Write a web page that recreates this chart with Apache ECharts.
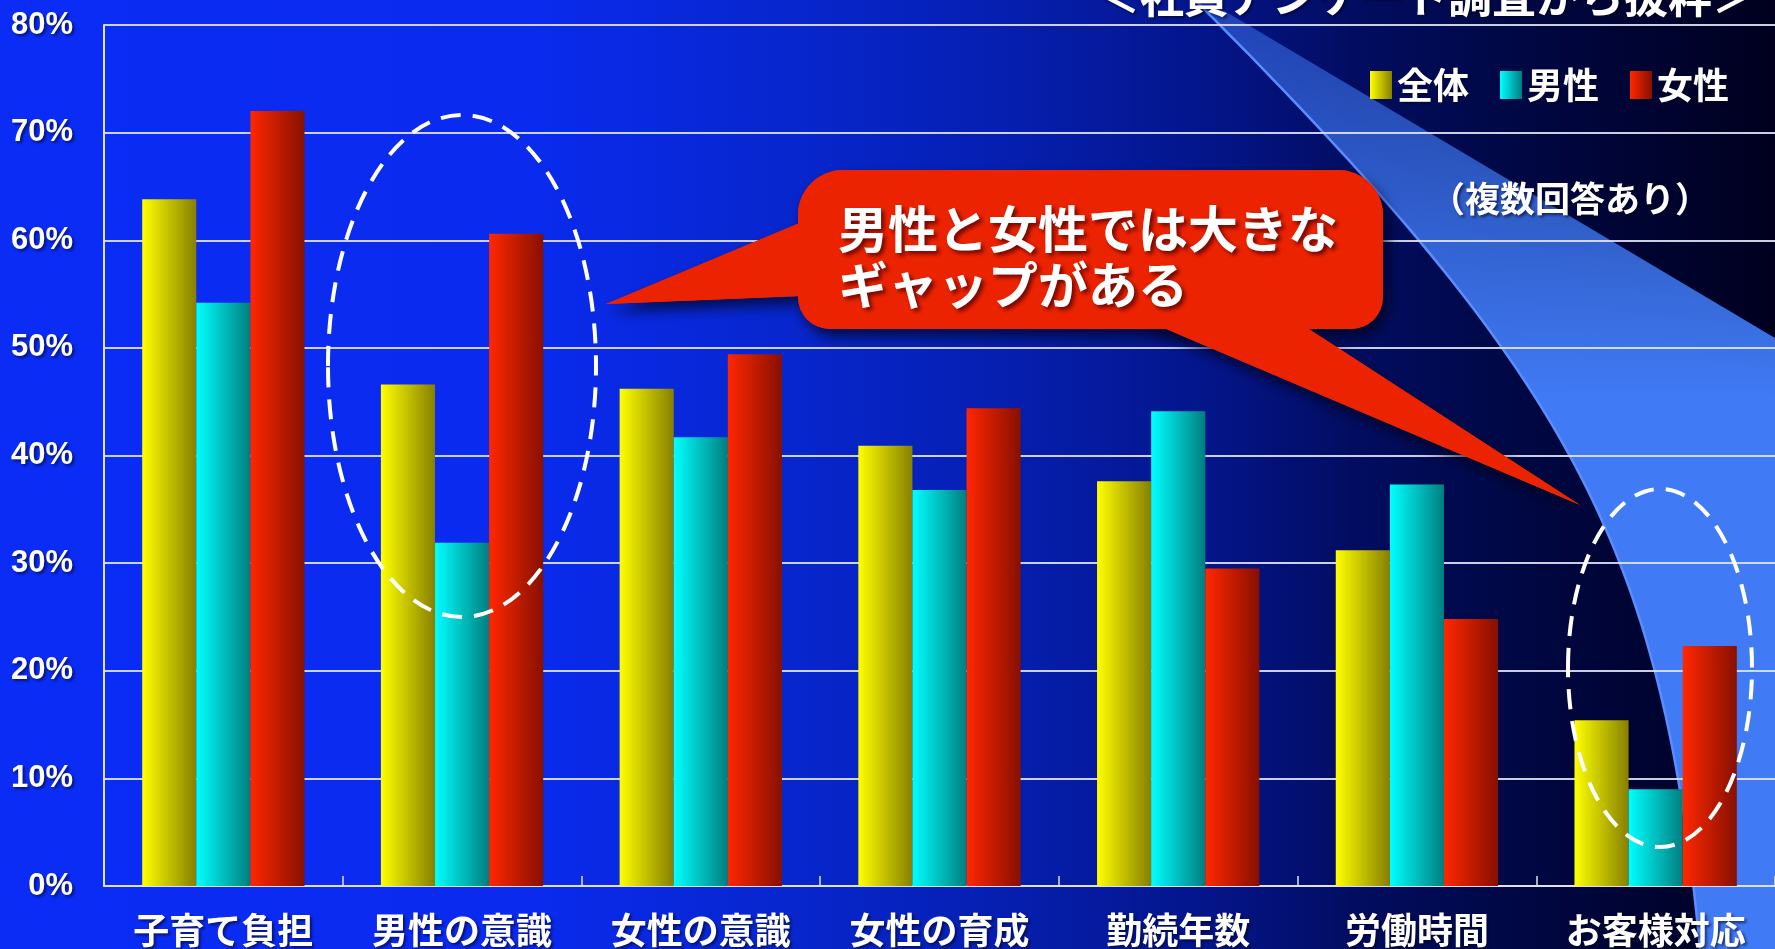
<!DOCTYPE html>
<html>
<head>
<meta charset="utf-8">
<script src="https://cdn.jsdelivr.net/npm/echarts@6/dist/echarts.min.js"></script>
<style>
html,body{margin:0;padding:0;background:#000;}
#chart{width:1775px;height:949px;}
</style>
</head>
<body>
<div id="chart"></div>
<script>
const categories = ['子育て負担','男性の意識','女性の意識','女性の育成','勤続年数','労働時間','お客様対応'];
const seriesNames = ['全体','男性','女性'];
const totalValues = [63.8, 46.6, 46.2, 40.9, 37.6, 31.2, 15.4];
const maleValues = [54.2, 31.9, 41.7, 36.8, 44.1, 37.3, 9.0];
const femaleValues = [72.0, 60.6, 49.4, 44.4, 29.5, 24.8, 22.3];
const yTicks = [0, 10, 20, 30, 40, 50, 60, 70, 80];
const titleText = '＜社員アンケート調査から抜粋＞';
const noteText = '（複数回答あり）';
const calloutLines = ['男性と女性では大きな', 'ギャップがある'];

const CJK = '"Noto Sans CJK JP", "Noto Sans CJK SC", sans-serif';
const G = echarts.graphic;
function hGrad(a, b) {
  return new G.LinearGradient(0, 0, 1, 0, [
    {offset: 0, color: a}, {offset: 1, color: b}
  ]);
}
const barColors = [
  hGrad('#ffff00', '#868000'),
  hGrad('#00ffff', '#007e80'),
  hGrad('#ff2700', '#861000')
];
const seriesValues = [totalValues, maleValues, femaleValues];

const chart = echarts.init(document.getElementById('chart'));

const bubbleColor = '#ec2300';
const leftPtr = [[802, 222], [606, 304], [802, 296]];
const rightPtr = [[1140, 318], [1580, 505], [1292, 318]];
const bubbleRect = {x: 798, y: 170, width: 585, height: 159, r: [45, 45, 32, 32]};
const shadowStyle = {fill: bubbleColor, shadowBlur: 14, shadowOffsetX: 5, shadowOffsetY: 8, shadowColor: 'rgba(0,0,20,0.7)'};
const plainStyle = {fill: bubbleColor};

// decorative light beam: left edge is a cubic bezier curve
const bz = {p0: [1195, 0], p1: [1575, 380], p2: [1662, 549], p3: [1700, 949]};
function bezierPoint(t) {
  const u = 1 - t;
  const a = u * u * u, b = 3 * u * u * t, c = 3 * u * t * t, d = t * t * t;
  return [a * bz.p0[0] + b * bz.p1[0] + c * bz.p2[0] + d * bz.p3[0],
          a * bz.p0[1] + b * bz.p1[1] + c * bz.p2[1] + d * bz.p3[1]];
}
const beamEdge = [];
for (let i = 0; i <= 60; i++) beamEdge.push(bezierPoint(i / 60));
const beamPts = beamEdge.concat([[1775, 949], [1775, 338], [1206, 0]]);

const txtShadow = {textShadowColor: 'rgba(0,0,30,0.6)', textShadowBlur: 3, textShadowOffsetX: 2, textShadowOffsetY: 2};

const option = {
  animation: false,
  grid: {left: 104, right: 0, top: 25, bottom: 63, containLabel: false},
  legend: {
    data: seriesNames,
    right: 41, top: 62,
    itemWidth: 22, itemHeight: 28, itemGap: 31,
    icon: 'rect',
    textStyle: Object.assign({color: '#fff', fontSize: 36, fontWeight: 'bold', fontFamily: CJK}, txtShadow)
  },
  xAxis: {
    type: 'category',
    data: categories,
    z: 3,
    axisLine: {lineStyle: {color: '#e0e0f0', width: 2}},
    axisTick: {show: true, inside: true, length: 10, lineStyle: {color: '#e0e0f0', width: 1.5}},
    axisLabel: Object.assign({color: '#fff', fontSize: 36, fontWeight: 'bold', fontFamily: CJK, margin: 26}, txtShadow)
  },
  yAxis: {
    type: 'value',
    min: yTicks[0], max: yTicks[yTicks.length - 1], interval: 10,
    z: 3,
    axisLine: {show: true, lineStyle: {color: '#e0e0f0', width: 2}},
    axisTick: {show: false},
    splitLine: {lineStyle: {color: 'rgba(225,228,245,0.9)', width: 2}},
    axisLabel: Object.assign({color: '#fff', fontSize: 31, fontWeight: 'bold', fontFamily: '"Liberation Sans Narrow", "Liberation Sans", sans-serif', margin: 31, formatter: v => v + '%'}, txtShadow)
  },
  series: seriesNames.map((name, i) => ({
    name: name,
    type: 'bar',
    z: 4,
    data: seriesValues[i],
    barGap: '0%',
    barCategoryGap: '32%',
    itemStyle: {color: barColors[i]}
  })),
  graphic: [
    {type: 'rect', z: -10, silent: true, shape: {x: 0, y: 0, width: 1775, height: 949},
     style: {fill: new G.LinearGradient(0, 0, 1, 0, [
       {offset: 0, color: '#0b2cf5'},
       {offset: 0.3, color: '#0a2aee'},
       {offset: 0.45, color: '#0726cc'},
       {offset: 0.55, color: '#0620b5'},
       {offset: 0.68, color: '#04158a'},
       {offset: 0.76, color: '#020d62'},
       {offset: 0.85, color: '#000845'},
       {offset: 1, color: '#00001e'}
     ])}},
    {type: 'polygon', z: -9, silent: true, shape: {points: beamPts},
     style: {fill: new G.LinearGradient(0, 0, 0, 1, [
       {offset: 0, color: 'rgba(64,122,245,0.45)'},
       {offset: 0.3, color: 'rgba(64,122,245,0.85)'},
       {offset: 0.42, color: 'rgba(64,122,245,1)'},
       {offset: 1, color: 'rgba(64,122,245,1)'}
     ])}},
    {type: 'polyline', z: -8, silent: true, shape: {points: beamEdge},
     style: {stroke: '#5a8dff', lineWidth: 2.5, fill: null}},
    {type: 'text', z: 20, silent: true, x: 1756, y: -4,
     style: Object.assign({text: titleText, fill: '#fff', font: 'bold 44px ' + CJK, textAlign: 'right', textVerticalAlign: 'middle'}, txtShadow)},
    {type: 'text', z: 20, silent: true, x: 1570, y: 199,
     style: Object.assign({text: noteText, fill: '#fff', font: 'bold 35px ' + CJK, textAlign: 'center', textVerticalAlign: 'middle'}, txtShadow)},
    {type: 'polygon', z: 30, silent: true, shape: {points: leftPtr}, style: shadowStyle},
    {type: 'polygon', z: 30, silent: true, shape: {points: rightPtr}, style: shadowStyle},
    {type: 'rect', z: 30, silent: true, shape: bubbleRect, style: shadowStyle},
    {type: 'polygon', z: 31, silent: true, shape: {points: leftPtr}, style: plainStyle},
    {type: 'polygon', z: 31, silent: true, shape: {points: rightPtr}, style: plainStyle},
    {type: 'rect', z: 31, silent: true, shape: bubbleRect, style: plainStyle},
    {type: 'text', z: 32, silent: true, x: 838, y: 229,
     style: {text: calloutLines[0], fill: '#fff', font: 'bold 50px ' + CJK, textAlign: 'left', textVerticalAlign: 'middle',
       textShadowColor: 'rgba(90,0,0,0.85)', textShadowBlur: 4, textShadowOffsetX: 3, textShadowOffsetY: 3}},
    {type: 'text', z: 32, silent: true, x: 838, y: 285,
     style: {text: calloutLines[1], fill: '#fff', font: 'bold 50px ' + CJK, textAlign: 'left', textVerticalAlign: 'middle',
       textShadowColor: 'rgba(90,0,0,0.85)', textShadowBlur: 4, textShadowOffsetX: 3, textShadowOffsetY: 3}},
    {type: 'ellipse', z: 40, silent: true, shape: {cx: 462, cy: 366, rx: 134, ry: 251},
     style: {fill: null, stroke: '#ffffff', lineWidth: 4, lineDash: [20, 12]}},
    {type: 'ellipse', z: 40, silent: true, shape: {cx: 1660, cy: 668, rx: 92, ry: 179},
     style: {fill: null, stroke: '#ffffff', lineWidth: 4, lineDash: [20, 12]}}
  ]
};
chart.setOption(option);
</script>
</body>
</html>
